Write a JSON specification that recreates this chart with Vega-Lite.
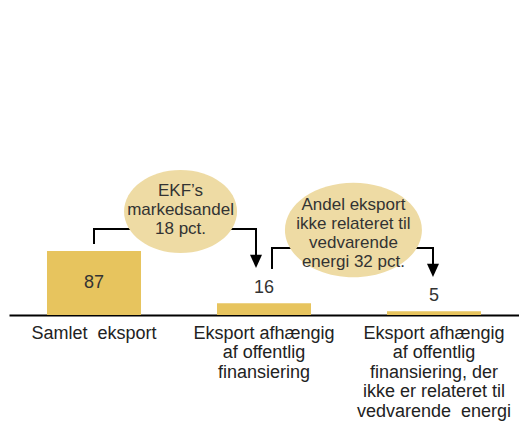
{
  "$schema": "https://vega.github.io/schema/vega-lite/v6.json",
  "width": 510,
  "height": 315,
  "autosize": {"type": "none"},
  "padding": {"left": 9, "top": 0, "right": 0, "bottom": 113},
  "background": "white",
  "config": {
    "view": {"stroke": null},
    "font": "Liberation Sans",
    "axis": {"grid": false}
  },
  "datasets": {
    "eksport": [
      {"kategori": "Samlet\u00a0 eksport", "mia": 87},
      {"kategori": "Eksport afhængig|af offentlig|finansiering", "mia": 16},
      {"kategori": "Eksport afhængig|af offentlig|finansiering, der|ikke er relateret til|vedvarende\u00a0 energi", "mia": 5}
    ],
    "forbindelser": [
      {"x": 0.5, "y": 97.8, "x2": 0.5, "y2": 116.8},
      {"x": 0.5, "y": 116.8, "x2": 0.85, "y2": 116.8},
      {"x": 1.15, "y": 116.8, "x2": 1.453, "y2": 116.8},
      {"x": 1.453, "y": 116.8, "x2": 1.453, "y2": 80},
      {"x": 1.547, "y": 63.9, "x2": 1.547, "y2": 91.0},
      {"x": 1.547, "y": 91.0, "x2": 1.8, "y2": 91.0},
      {"x": 2.25, "y": 91.0, "x2": 2.494, "y2": 91.0},
      {"x": 2.494, "y": 91.0, "x2": 2.494, "y2": 68}
    ],
    "pile": [
      {"x": 1.453, "y": 72.8},
      {"x": 2.494, "y": 60.6}
    ],
    "bobler": [
      {"boble": "1", "x": 1.009, "y": 140.6, "tx": 1.009, "ty": 168.5, "tekst": "EKF’s\nmarkedsandel\n18 pct."},
      {"boble": "2", "x": 2.026, "y": 115.5, "tx": 2.026, "ty": 149.5, "tekst": "Andel eksport\nikke relateret til\nvedvarende\nenergi 32 pct."}
    ]
  },
  "layer": [
    {
      "layer": [
        {
          "data": {"name": "eksport"},
          "mark": {"type": "bar", "color": "#E7C45E"},
          "encoding": {
            "x": {
              "field": "kategori",
              "type": "nominal",
              "sort": null,
              "scale": {"paddingInner": 0.447, "paddingOuter": 0.2235},
              "axis": {
                "title": null,
                "labelAngle": 0,
                "labelExpr": "split(datum.label, '|')",
                "labelFont": "Liberation Sans",
                "labelFontSize": 18,
                "labelLineHeight": 19.5,
                "labelColor": "#222222",
                "labelPadding": 9,
                "labelBaseline": "top",
                "labelLimit": 0,
                "labelOverlap": false,
                "ticks": false,
                "domainColor": "#000000",
                "domainWidth": 2
              }
            },
            "y": {
              "field": "mia",
              "type": "quantitative",
              "scale": {"domain": [0, 428], "nice": false},
              "axis": null
            }
          }
        },
        {
          "data": {"name": "eksport"},
          "transform": [{"filter": "datum.mia > 50"}],
          "mark": {"type": "text", "fontSize": 18, "color": "#333333", "baseline": "middle", "dy": 32, "font": "Liberation Sans"},
          "encoding": {
            "x": {"field": "kategori", "type": "nominal", "sort": null},
            "y": {"field": "mia", "type": "quantitative", "axis": null},
            "text": {"field": "mia", "type": "quantitative"}
          }
        },
        {
          "data": {"name": "eksport"},
          "transform": [{"filter": "datum.mia <= 50"}],
          "mark": {"type": "text", "fontSize": 18, "color": "#333333", "baseline": "middle", "dy": -15, "font": "Liberation Sans"},
          "encoding": {
            "x": {"field": "kategori", "type": "nominal", "sort": null},
            "y": {"field": "mia", "type": "quantitative", "axis": null},
            "text": {"field": "mia", "type": "quantitative"}
          }
        }
      ]
    },
    {
      "layer": [
        {
          "data": {"name": "forbindelser"},
          "mark": {"type": "rule", "color": "#000000", "strokeWidth": 2, "strokeCap": "square"},
          "encoding": {
            "x": {"field": "x", "type": "quantitative", "scale": {"domain": [0, 3], "nice": false, "zero": false}, "axis": null},
            "x2": {"field": "x2"},
            "y": {"field": "y", "type": "quantitative", "axis": null},
            "y2": {"field": "y2"}
          }
        },
        {
          "data": {"name": "pile"},
          "mark": {"type": "point", "shape": "M-1,-1.1L1,-1.1L0,1.1Z", "size": 144, "filled": true, "color": "#000000", "opacity": 1},
          "encoding": {
            "x": {"field": "x", "type": "quantitative", "axis": null},
            "y": {"field": "y", "type": "quantitative", "axis": null}
          }
        },
        {
          "data": {"name": "bobler"},
          "transform": [{"filter": "datum.boble == '1'"}],
          "mark": {"type": "point", "shape": "M-1,0C-1,-0.406,-0.5523,-0.735,0,-0.735C0.5523,-0.735,1,-0.406,1,0C1,0.406,0.5523,0.735,0,0.735C-0.5523,0.735,-1,0.406,-1,0Z", "size": 12769, "filled": true, "color": "#EEDBA4", "opacity": 1},
          "encoding": {
            "x": {"field": "x", "type": "quantitative", "axis": null},
            "y": {"field": "y", "type": "quantitative", "axis": null}
          }
        },
        {
          "data": {"name": "bobler"},
          "transform": [{"filter": "datum.boble == '2'"}],
          "mark": {"type": "point", "shape": "M-1,0C-1,-0.381,-0.5523,-0.69,0,-0.69C0.5523,-0.69,1,-0.381,1,0C1,0.381,0.5523,0.69,0,0.69C-0.5523,0.69,-1,0.381,-1,0Z", "size": 18769, "filled": true, "color": "#EEDBA4", "opacity": 1},
          "encoding": {
            "x": {"field": "x", "type": "quantitative", "axis": null},
            "y": {"field": "y", "type": "quantitative", "axis": null}
          }
        },
        {
          "data": {"name": "bobler"},
          "mark": {"type": "text", "fontSize": 17, "lineHeight": 19, "color": "#333333", "baseline": "middle", "align": "center", "lineBreak": "\n", "font": "Liberation Sans"},
          "encoding": {
            "x": {"field": "tx", "type": "quantitative", "axis": null},
            "y": {"field": "ty", "type": "quantitative", "axis": null},
            "text": {"field": "tekst", "type": "nominal"}
          }
        }
      ]
    }
  ],
  "resolve": {"scale": {"x": "independent"}}
}
